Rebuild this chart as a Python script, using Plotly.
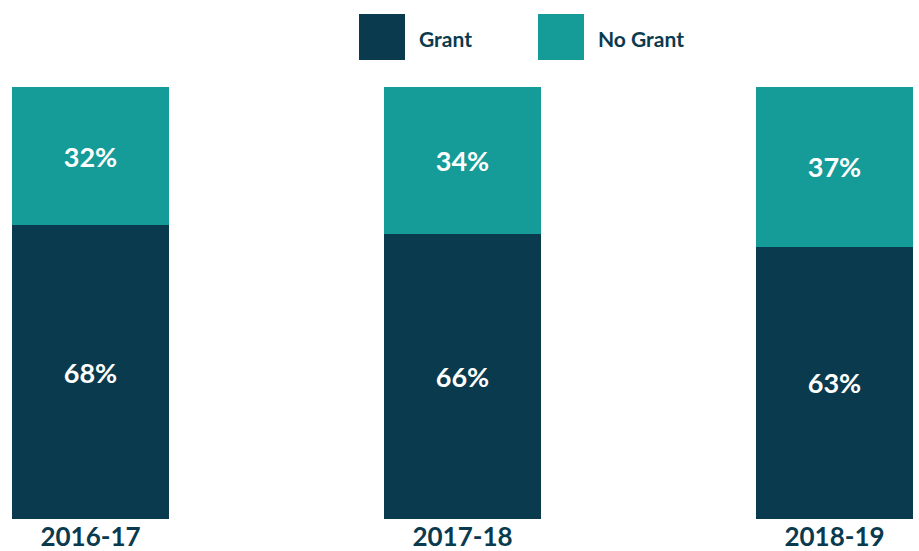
import plotly.graph_objects as go

# Share of recipients by academic year
years = ["2016-17", "2017-18", "2018-19"]
grant = [68, 66, 63]
no_grant = [32, 34, 37]

DARK = "#0A3A4E"
TEAL = "#159B98"
FONT = "Lato"

W, H = 919, 551
M_TOP, M_BOT = 87, 32
PLOT_H = H - M_TOP - M_BOT

fig = go.Figure()
for name, vals, col in [("Grant", grant, DARK), ("No Grant", no_grant, TEAL)]:
    fig.add_trace(go.Bar(
        x=years, y=vals, name=name, marker=dict(color=col, line=dict(width=0)),
        width=0.422,
        texttemplate="%{y}%", textposition="inside", insidetextanchor="middle",
        textangle=0,
        textfont=dict(family=FONT, size=27, color="white", weight=700),
        hoverinfo="skip", showlegend=False,
    ))

# legend: large swatches with labels above the plot
def py(pix):
    return (H - M_BOT - pix) / PLOT_H

legend_items = [("Grant", DARK, 359), ("No Grant", TEAL, 538)]
for label, col, x0 in legend_items:
    fig.add_shape(type="rect", xref="paper", yref="paper",
                  x0=x0 / W, x1=(x0 + 46) / W, y0=py(60), y1=py(14),
                  fillcolor=col, line=dict(width=0))
    fig.add_annotation(text=label, xref="paper", yref="paper",
                       x=(x0 + 58) / W, y=py(38), xanchor="left", yanchor="middle",
                       showarrow=False,
                       font=dict(family=FONT, size=21, color=DARK, weight=700))

spacing = 372.0
fig.update_layout(
    barmode="stack",
    width=W, height=H,
    margin=dict(l=0, r=0, t=M_TOP, b=M_BOT, pad=0),
    paper_bgcolor="white", plot_bgcolor="white",
    xaxis=dict(type="category", range=[-90.5 / spacing, (W - 90.5) / spacing],
               showgrid=False, zeroline=False, showline=False, ticks="",
               automargin=False,
               tickfont=dict(family=FONT, size=26, color=DARK, weight=700)),
    yaxis=dict(range=[0, 100], visible=False, automargin=False),
    showlegend=False,
)

fig.write_html("out.html")
